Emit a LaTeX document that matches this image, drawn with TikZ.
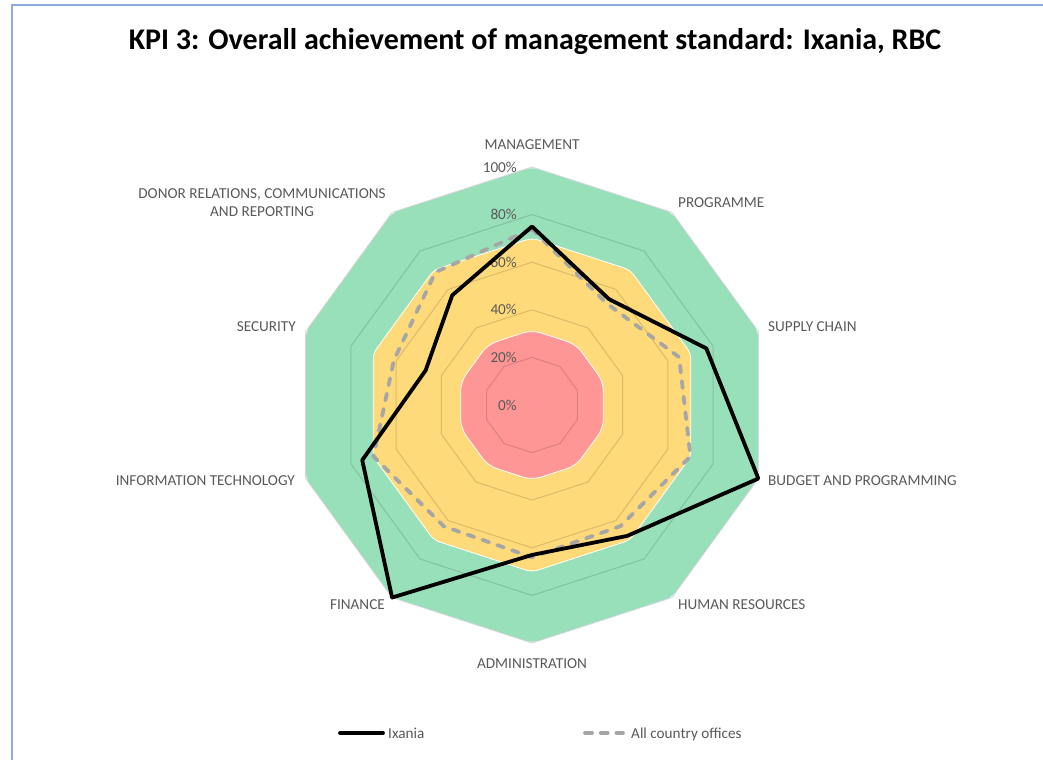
\documentclass[tikz,border=0pt]{standalone}
\usepackage{fontspec}
\setmainfont{Carlito}
\usepackage{xcolor}

\definecolor{okgreen}{RGB}{152,224,186}
\definecolor{midyellow}{RGB}{255,218,122}
\definecolor{lowred}{RGB}{255,150,150}
\definecolor{labelgray}{RGB}{89,89,89}
\definecolor{avggray}{RGB}{166,166,166}
\definecolor{frameblue}{RGB}{143,170,220}

\begin{document}
\begin{tikzpicture}[x=1pt,y=1pt,
  band/.style={draw=white,line width=0.8pt},
  ring/.style={draw=black,draw opacity=0.14,line width=1pt},
  catlabel/.style={text=labelgray,font=\fontsize{15.2}{18}\selectfont,inner sep=0pt},
  ixline/.style={black,line width=3.8pt,line join=round},
  avgline/.style={avggray,line width=3.8pt,line join=round,line cap=round,dash pattern=on 7pt off 8.7pt}]

\useasboundingbox (0,0) rectangle (1043,760);

% Frame
\draw[frameblue,line width=1.5pt] (1043,755) -- (12,755) -- (12,0);

% Title
\node[font=\bfseries\fontsize{30}{36}\selectfont,anchor=base,inner sep=0pt] (title) at (535,710)
  {KPI 3: Overall achievement of management standard: Ixania, RBC};

\begin{scope}[shift={(532,355)}]
% Bands
\foreach \r/\col/\rc in {238/okgreen/5,167/midyellow/6,75/lowred/9}{
  \filldraw[band,fill=\col,rounded corners=\rc pt] (90:\r) \foreach \a in {1,...,9}{ -- (90+36*\a:\r)} -- cycle;
}

% Rings
\foreach \k in {1,...,5}{
  \draw[ring] (90:\k*47.6) \foreach \a in {1,...,9}{ -- (90+36*\a:\k*47.6)} -- cycle;
}

% Scale
\foreach \k in {0,...,5}{
  \node[catlabel,anchor=east] (pct\k) at (-15,\k*47.6) {\the\numexpr\k*20\relax\%};
}

% Series
\foreach \v [count=\i from 0] in {0.75,0.55,0.77,1.0,0.68,0.63,1.0,0.75,0.47,0.57}
  \coordinate (ix\i) at (90-36*\i:\v*238);
\foreach \v [count=\i from 0] in {0.74,0.53,0.65,0.70,0.63,0.64,0.63,0.70,0.61,0.69}
  \coordinate (av\i) at (90-36*\i:\v*238);

\draw[avgline] (av0) -- (av1) -- (av2) -- (av3) -- (av4) -- (av5) -- (av6) -- (av7) -- (av8) -- (av9) -- cycle;
\draw[ixline] (ix0) -- (ix1) -- (ix2) -- (ix3) -- (ix4) -- (ix5) -- (ix6) -- (ix7) -- (ix8) -- (ix9) -- cycle;
\end{scope}

% Categories
\node[catlabel,anchor=base] (mgmt) at (532,610) {MANAGEMENT};
\node[catlabel,anchor=base west] (prog) at (678,552) {PROGRAMME};
\node[catlabel,anchor=base west] (supply) at (768,428) {SUPPLY CHAIN};
\node[catlabel,anchor=base west] (budget) at (768,274) {BUDGET AND PROGRAMMING};
\node[catlabel,anchor=base west] (hr) at (678,150) {HUMAN RESOURCES};
\node[catlabel,anchor=base] (admin) at (532,92) {ADMINISTRATION};
\node[catlabel,anchor=base east] (finance) at (385,150) {FINANCE};
\node[catlabel,anchor=base east] (it) at (295,274) {INFORMATION TECHNOLOGY};
\node[catlabel,anchor=base east] (security) at (296,428) {SECURITY};
\node[catlabel,align=center] (donor) at (262,557) {DONOR RELATIONS, COMMUNICATIONS\\AND REPORTING};

% Legend
\coordinate (ixa) at (340,27);
\coordinate (ixb) at (383,27);
\draw[ixline,line cap=round] (ixa) -- (ixb);
\node[catlabel,anchor=base west] (ixname) at (388,22) {Ixania};
\coordinate (ava) at (585,27);
\coordinate (avb) at (623,27);
\draw[avgline] (ava) -- (avb);
\node[catlabel,anchor=base west] (avname) at (631,22) {All country offices};

\end{tikzpicture}
\end{document}
